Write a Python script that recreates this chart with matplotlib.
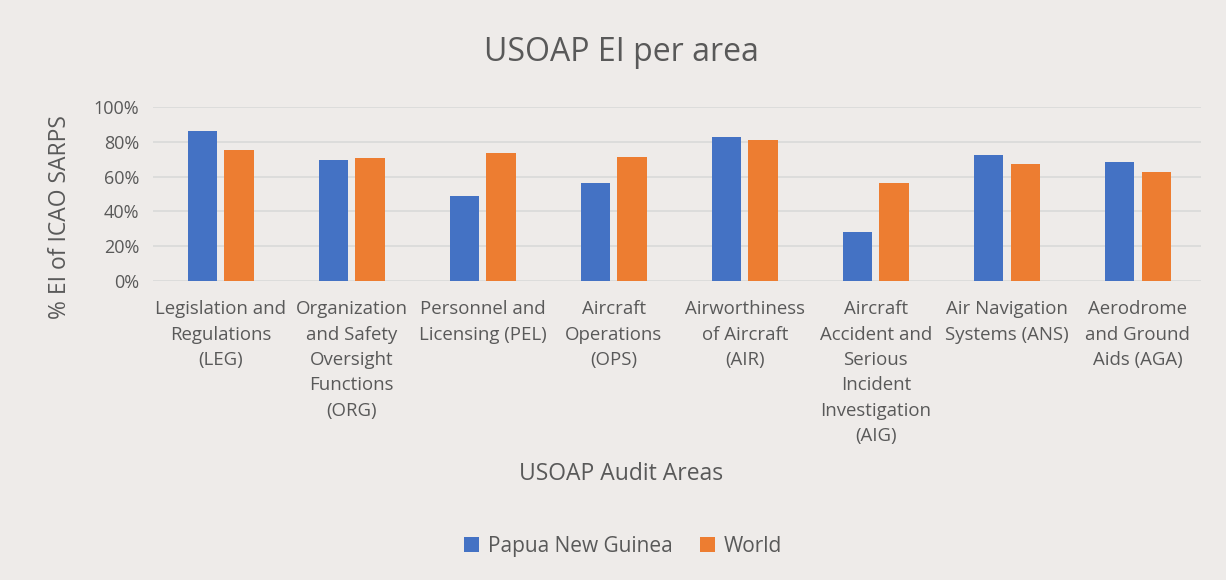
import matplotlib
matplotlib.use("Agg")
import matplotlib.pyplot as plt
import numpy as np

plt.rcParams['font.family'] = ['Open Sans', 'DejaVu Sans']

categories = [
    "Legislation and\nRegulations\n(LEG)",
    "Organization\nand Safety\nOversight\nFunctions\n(ORG)",
    "Personnel and\nLicensing (PEL)",
    "Aircraft\nOperations\n(OPS)",
    "Airworthiness\nof Aircraft\n(AIR)",
    "Aircraft\nAccident and\nSerious\nIncident\nInvestigation\n(AIG)",
    "Air Navigation\nSystems (ANS)",
    "Aerodrome\nand Ground\nAids (AGA)",
]
png_values = [86.3, 69.7, 49.1, 56.5, 82.7, 28.1, 72.3, 68.4]
world_values = [75.3, 70.9, 73.4, 71.1, 81.3, 56.5, 67.4, 62.8]
series_names = ["Papua New Guinea", "World"]
yticks = [0, 20, 40, 60, 80, 100]
ytick_labels = ["0%", "20%", "40%", "60%", "80%", "100%"]

text_color = "#595959"
bg = "#EEEBE9"

fig = plt.figure(figsize=(12.26, 5.8), dpi=100, facecolor=bg)
ax = fig.add_axes([0.125, 0.5155, 0.855, 0.30])
ax.set_facecolor("none")

x = np.arange(len(categories))
w = 0.225
b1 = ax.bar(x - 0.125, png_values, w, color="#4472C4", label=series_names[0], zorder=3)
b2 = ax.bar(x + 0.155, world_values, w, color="#ED7D31", label=series_names[1], zorder=3)

ax.set_xlim(-0.5, len(categories) - 0.5)
ax.set_ylim(0, 100)
ax.set_yticks(yticks)
ax.set_yticklabels(ytick_labels, fontsize=13, color=text_color)
ax.set_xticks(x + 0.015)
ax.set_xticklabels(categories, fontsize=13.4, color=text_color, linespacing=1.52, va="top")
ax.tick_params(axis="both", length=0)
ax.tick_params(axis="x", pad=14)
ax.tick_params(axis="y", pad=10)
ax.grid(axis="y", color="#D9D9D9", linewidth=1.2, zorder=0)
for s in ax.spines.values():
    s.set_visible(False)

fig.text(0.5065, 0.91, "USOAP EI per area", ha="center", va="center", fontsize=23, color=text_color)
fig.text(0.049, 0.626, "% EI of ICAO SARPS", rotation=90, ha="center", va="center", fontsize=16.5, color=text_color)
fig.text(0.5065, 0.183, "USOAP Audit Areas", ha="center", va="center", fontsize=16.5, color=text_color)

leg = fig.legend(handles=[b1, b2], labels=series_names, loc="center", bbox_to_anchor=(0.508, 0.058),
                 ncol=2, frameon=False, fontsize=15, handlelength=0.75, handleheight=0.75,
                 handletextpad=0.4, columnspacing=1.3)
for t in leg.get_texts():
    t.set_color(text_color)

fig.savefig("out.png", dpi=100, facecolor=bg)
